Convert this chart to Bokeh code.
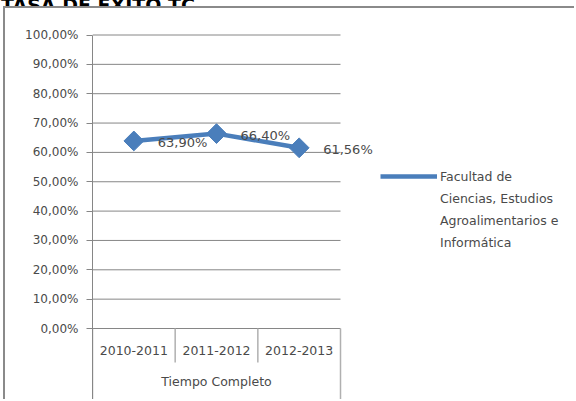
import math
from bokeh.plotting import figure
from bokeh.layouts import column
from bokeh.models import (Range1d, FixedTicker, Legend, LegendItem, Div,
                          Label, LabelSet, ColumnDataSource)
from bokeh.core.properties import value
from bokeh.embed import file_html
from bokeh.resources import INLINE

# ---- data ----
title_text = "TASA DE ÉXITO TC"
group_label = "Tiempo Completo"
categories = ["2010-2011", "2011-2012", "2012-2013"]
series_lines = ["Facultad de", "Ciencias, Estudios", "Agroalimentarios e", "Informática"]
tasa_exito = [63.90, 66.40, 61.56]
y_ticks = [0, 10, 20, 30, 40, 50, 60, 70, 80, 90, 100]
y_tick_labels = ["0,00%", "10,00%", "20,00%", "30,00%", "40,00%", "50,00%",
                 "60,00%", "70,00%", "80,00%", "90,00%", "100,00%"]

FONT = "DejaVu Sans"
GRAY = "#868686"
TXT = "#4a4a4a"
BLUE = "#4a7ebb"
BOX = "#8a8a8a"

PX_PER_UNIT = 2.935      # vertical scale (pixels per percentage point)
CAT_PX = 82.67           # width of one category slot in pixels
W, H = 571, 393
LEFT = 87
Y_TOP = 100 + 26.5 / PX_PER_UNIT
Y_BOTTOM = -(H - 320) / PX_PER_UNIT
X_END = (W - LEFT) / CAT_PX

n = len(categories)
x_pos = [i + 0.5 for i in range(n)]

title = Div(text=(f'<div style="font: bold 19px \'{FONT}\'; line-height: 19px; '
                  f'margin-top: -16px; margin-left: 1px; white-space: nowrap; color: #000;">'
                  f'{title_text}</div>'),
            width=300, height=6, margin=0, styles={"overflow": "hidden"})

p = figure(width=W, height=H,
           x_range=Range1d(0, X_END), y_range=Range1d(Y_BOTTOM, Y_TOP),
           output_backend="svg", toolbar_location=None,
           min_border_left=LEFT, min_border_right=0, min_border_top=0, min_border_bottom=0,
           x_axis_location=None, outline_line_color=None,
           background_fill_color="white", border_fill_color="white")
p.styles = {"border-top": f"2px solid {BOX}", "border-left": f"2px solid {BOX}",
            "margin-left": "3px"}

# y axis
p.yaxis.ticker = FixedTicker(ticks=y_ticks)
p.yaxis.bounds = (Y_BOTTOM, 100)
p.yaxis.major_label_overrides = {t: l for t, l in zip(y_ticks, y_tick_labels)}
p.yaxis.axis_line_color = GRAY
p.yaxis.major_tick_line_color = GRAY
p.yaxis.major_tick_out = 6
p.yaxis.major_tick_in = 0
p.yaxis.minor_tick_line_color = None
p.yaxis.major_label_standoff = 8
p.yaxis.major_label_text_font = FONT
p.yaxis.major_label_text_font_size = "12px"
p.yaxis.major_label_text_color = TXT
p.xgrid.visible = False
p.ygrid.visible = False

# horizontal gridlines across the plot area only
p.segment(x0=[0] * len(y_ticks), y0=y_ticks, x1=[n] * len(y_ticks), y1=y_ticks,
          line_color=GRAY, line_width=1)

# category separators (Excel-style multi-level axis)
bounds = list(range(n + 1))
p.segment(x0=bounds, y0=[0] * (n + 1), x1=bounds,
          y1=[Y_BOTTOM if i in (0, n) else -11.6 for i in bounds],
          line_color="#b0b0b0", line_width=1.5)

cat_src = ColumnDataSource(dict(x=x_pos, y=[-7.5] * n, t=categories))
p.add_layout(LabelSet(x="x", y="y", text="t", source=cat_src,
                      text_align="center", text_baseline="middle",
                      text_font=value(FONT), text_font_size="12.5px", text_color=TXT))
p.add_layout(Label(x=n / 2, y=-18, text=group_label, text_align="center",
                   text_baseline="middle", text_font=FONT,
                   text_font_size="12.5px", text_color=TXT))

# series
line_r = p.line(x_pos, tasa_exito, line_width=4.5, line_color=BLUE)
pts = p.scatter(x_pos, tasa_exito, marker="square", angle=math.pi / 4,
                size=14, fill_color=BLUE, line_color=BLUE)

lab_src = ColumnDataSource(dict(x=x_pos, y=tasa_exito,
                                t=[f"{v:.2f}%".replace(".", ",") for v in tasa_exito]))
p.add_layout(LabelSet(x="x", y="y", text="t", source=lab_src, x_offset=24, y_offset=-2,
                      text_align="left", text_baseline="middle",
                      text_font=value(FONT), text_font_size="13px", text_color=TXT))

# legend: first line carries the series glyph, the rest are wrapped label lines
legend_marker = p.scatter(x=[], y=[], marker="diamond", fill_color=BLUE, line_color=BLUE)
blank = p.line(x=[], y=[], line_alpha=0)
items = [LegendItem(label=series_lines[0], renderers=[line_r, legend_marker])]
items += [LegendItem(label=t, renderers=[blank]) for t in series_lines[1:]]
legend = Legend(items=items, location=(288, 148), border_line_color=None,
                background_fill_alpha=0, padding=0, margin=0, spacing=0,
                glyph_width=57, glyph_height=22, label_height=22, label_standoff=3,
                label_text_font=FONT, label_text_font_size="12.5px",
                label_text_color=TXT)
p.add_layout(legend, "center")

layout = column(title, p, spacing=0)
open("out.html", "w").write(file_html(layout, INLINE, title=title_text))
